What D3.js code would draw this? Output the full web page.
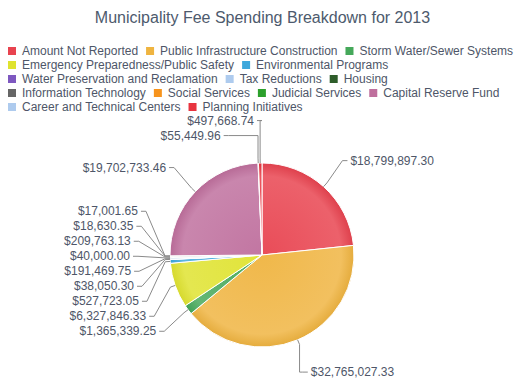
<!DOCTYPE html>
<html>
<head>
<meta charset="utf-8">
<script src="https://cdn.jsdelivr.net/npm/d3@7"></script>
<style>
  body { margin: 0; background: #fff; }
  svg { font-family: "Liberation Sans", Arial, sans-serif; }
</style>
</head>
<body>
<div id="chart"></div>
<script>
// categories, values and colours, clockwise from 12 o'clock
const categories = [
  "Amount Not Reported", "Public Infrastructure Construction", "Storm Water/Sewer Systems",
  "Emergency Preparedness/Public Safety", "Environmental Programs",
  "Water Preservation and Reclamation", "Tax Reductions", "Housing",
  "Information Technology", "Social Services", "Judicial Services", "Capital Reserve Fund",
  "Career and Technical Centers", "Planning Initiatives"
];
const values = [
  18799897.30, 32765027.33, 1365339.25, 6327846.33, 527723.05, 38050.30, 191469.75,
  40000.00, 209763.13, 18630.35, 17001.65, 19702733.46, 55449.96, 497668.74
];
const colors = [
  "#e8434f", "#efb440", "#45a85a", "#dfe32f", "#3ea8dc", "#7e58c0", "#aecbee",
  "#2e5d2a", "#666666", "#f7941d", "#2ca02c", "#bf6f9d", "#aecbee", "#e8343f"
];

const width = 525, height = 388;
const cx = 262, cy = 255, radius = 92;
const labelGap = 15;
const textColor = "#4e5668";

const svg = d3.select("#chart").append("svg")
  .attr("width", width)
  .attr("height", height);

// titolo
svg.append("text")
  .attr("x", width / 2)
  .attr("y", 23)
  .attr("text-anchor", "middle")
  .attr("fill", "#4d5a6d")
  .style("font-size", "16px")
  .text("Municipality Fee Spending Breakdown for 2013");

// legend, wrapping rows
let lx = 8, row = 0;
const legend = svg.append("g");
categories.forEach(function(c, i) {
  let item = legend.append("g");
  let t = item.append("text")
    .attr("x", 14)
    .attr("y", 4)
    .attr("fill", textColor)
    .style("font-size", "12px")
    .text(c);
  let w = 14 + t.node().getComputedTextLength() + 8;
  if (lx + w - 8 > width - 8) { lx = 8; row++; }
  item.attr("transform", "translate(" + lx + "," + (51 + row * 14) + ")");
  item.insert("rect", "text")
    .attr("x", 0).attr("y", -4)
    .attr("width", 8).attr("height", 8)
    .attr("fill", colors[i]);
  lx += w;
});

// gradients for the shaded slices (centred on the pie group origin)
const defs = svg.append("defs");
colors.forEach(function(col, i) {
  let g = defs.append("radialGradient")
    .attr("id", "grad" + i)
    .attr("gradientUnits", "userSpaceOnUse")
    .attr("cx", 0).attr("cy", 0).attr("r", radius);
  g.append("stop").attr("offset", "0%").attr("stop-color", d3.interpolateRgb(col, "#fff")(0.05));
  g.append("stop").attr("offset", "86%").attr("stop-color", d3.interpolateRgb(col, "#fff")(0.16));
  g.append("stop").attr("offset", "100%").attr("stop-color", d3.color(col).darker(0.12));
});

const pie = d3.pie().sort(null).value(d => d);
const arcs = pie(values);
const arc = d3.arc().innerRadius(0).outerRadius(radius);

const g = svg.append("g").attr("transform", "translate(" + cx + "," + cy + ")");

g.selectAll("path.slice")
  .data(arcs)
  .enter().append("path")
  .attr("class", "slice")
  .attr("d", arc)
  .attr("fill", (d, i) => "url(#grad" + i + ")")
  .attr("stroke", "#fff")
  .attr("stroke-width", 1);

// label positions (cluster + spread like the original)
const Ry = radius + 35, Rx = radius + 32;
let labels = arcs.map(function(d, i) {
  let a = (d.startAngle + d.endAngle) / 2;
  return {
    i: i, a: a,
    left: a > Math.PI,
    y0: -Math.cos(a) * Ry,
    text: d3.format("$,.2f")(values[i])
  };
});

function spread(list) {
  list.sort((p, q) => p.y0 - q.y0);
  let groups = list.map(l => ({ items: [l], sum: l.y0 }));
  let moved = true;
  while (moved) {
    moved = false;
    groups.forEach(function(gr) {
      let n = gr.items.length;
      gr.top = gr.sum / n - (n - 1) * labelGap / 2;
    });
    for (let k = 0; k < groups.length - 1; k++) {
      let a = groups[k], b = groups[k + 1];
      if (a.top + a.items.length * labelGap > b.top) {
        a.items = a.items.concat(b.items);
        a.sum += b.sum;
        groups.splice(k + 1, 1);
        moved = true;
        break;
      }
    }
  }
  groups.forEach(function(gr) {
    gr.items.forEach((l, k) => { l.y = gr.top + k * labelGap; });
  });
}
spread(labels.filter(l => l.left));
spread(labels.filter(l => !l.left));

const lg = g.append("g");
labels.forEach(function(l) {
  let s = l.left ? -1 : 1;
  let ang = Math.asin(Math.max(-1, Math.min(1, l.y / Rx)));
  let x = s * Math.cos(ang) * Rx;
  let bx = Math.sin(l.a) * (radius + 5), by = -Math.cos(l.a) * (radius + 5);
  let ex = Math.sin(l.a) * radius, ey = -Math.cos(l.a) * radius;

  let p = "M" + (x + s * 5) + "," + l.y + "L" + x + "," + l.y;
  // labels above or below the pie: run across, then straight down
  if (Math.abs(l.y) > radius + 5) p += "L" + bx + "," + l.y;
  p += "L" + bx + "," + by + "L" + ex + "," + ey;

  lg.append("path")
    .attr("d", p)
    .attr("fill", "none")
    .attr("stroke", "#8a8a8a")
    .attr("stroke-width", 1);

  lg.append("text")
    .attr("x", x + s * 8)
    .attr("y", l.y + 4)
    .attr("text-anchor", l.left ? "end" : "start")
    .attr("fill", textColor)
    .style("font-size", "12px")
    .text(l.text);
});
</script>
</body>
</html>
